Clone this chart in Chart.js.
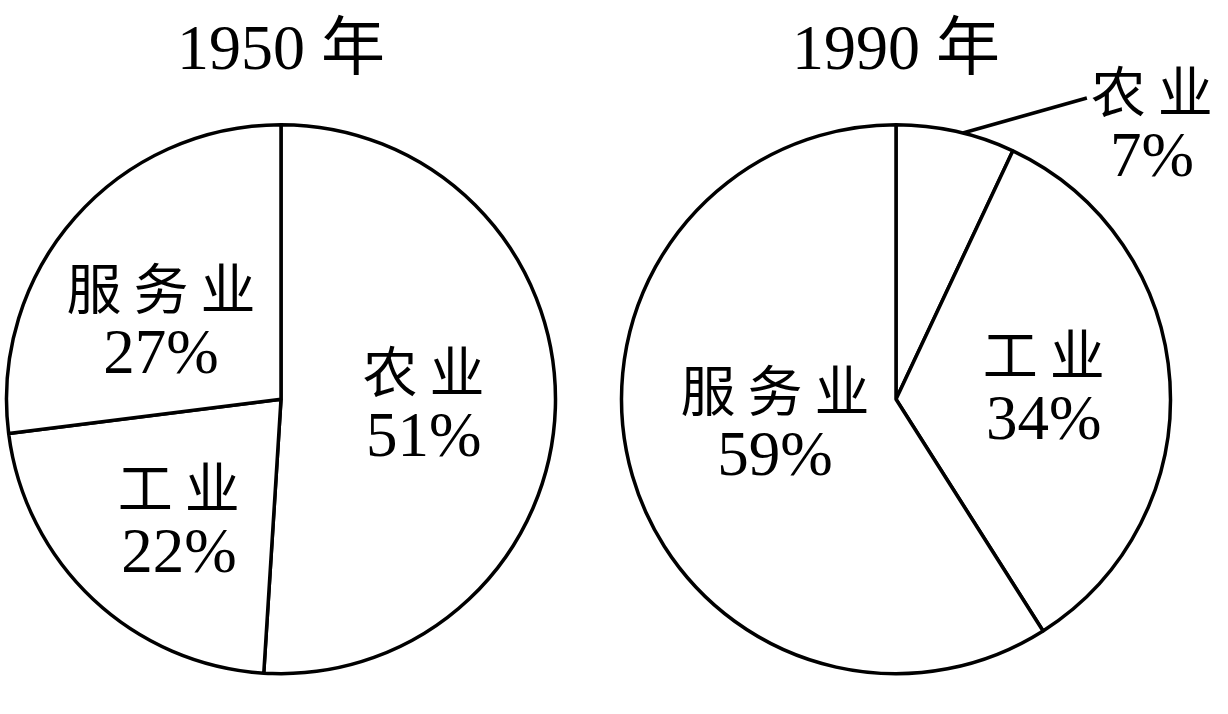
<!DOCTYPE html>
<html lang="zh">
<head>
<meta charset="utf-8">
<title>1950年与1990年产业结构</title>
<script src="https://cdn.jsdelivr.net/npm/chart.js@4.4.1/dist/chart.umd.min.js"></script>
<style>
    html, body { margin: 0; padding: 0; background: #fff; }
    body { width: 1228px; height: 714px; position: relative; overflow: hidden; }
    canvas { position: absolute; top: 0; }
    #chart1950 { left: 0; }
    #chart1990 { left: 615px; }
</style>
</head>
<body>
<canvas id="chart1950" width="562" height="714"></canvas>
<canvas id="chart1990" width="613" height="714"></canvas>
<script>
// Data
const titles = ['1950 年', '1990 年'];
const sectors1950 = ['农业', '工业', '服务业'];
const shares1950 = [51, 22, 27];
const sectors1990 = ['农业', '工业', '服务业'];
const shares1990 = [7, 34, 59];

// Fonts
const numFamily = "'Liberation Serif', 'Times New Roman', 'Noto Sans CJK SC', serif";
const cjkFont = "55px 'Noto Sans CJK SC', sans-serif";
const numFont = "63px 'Liberation Serif', 'Times New Roman', serif";

// Label placement per slice: r = fraction of radius, da = degrees off the slice middle
const place1950 = [
    { r: 0.52, da: 0.6 },
    { r: 0.58, da: -3.3 },
    { r: 0.52, da: -8.7 }
];
const place1990 = [
    { outside: true, da: 1.5, dx: 124, dy: -35, tx: 189, ty: -8 },
    { r: 0.54, da: -0.7 },
    { r: 0.45, da: 4.6 }
];

function drawSpaced(ctx, text, cx, cy, gap) {
    ctx.font = cjkFont;
    ctx.textAlign = 'left';
    const chars = Array.from(text);
    const widths = chars.map(c => ctx.measureText(c).width);
    const total = widths.reduce((a, b) => a + b, 0) + gap * (chars.length - 1);
    let x = cx - total / 2;
    chars.forEach((c, i) => {
        ctx.fillText(c, x, cy);
        x += widths[i] + gap;
    });
}

function makeLabels(places) {
    return {
        id: 'sliceLabels',
        afterDatasetsDraw(chart) {
            const ctx = chart.ctx;
            const meta = chart.getDatasetMeta(0);
            const names = chart.data.labels;
            const values = chart.data.datasets[0].data;
            ctx.save();
            ctx.fillStyle = '#000';
            ctx.strokeStyle = '#000';
            ctx.textBaseline = 'middle';
            meta.data.forEach((arc, i) => {
                const p = arc.getProps(['x', 'y', 'startAngle', 'endAngle', 'outerRadius'], true);
                const place = places[i];
                const a = (p.startAngle + p.endAngle) / 2 + place.da * Math.PI / 180;
                let cx, cy;
                if (place.outside) {
                    const sx = p.x + Math.cos(a) * p.outerRadius;
                    const sy = p.y + Math.sin(a) * p.outerRadius;
                    ctx.beginPath();
                    ctx.moveTo(sx, sy);
                    ctx.lineTo(sx + place.dx, sy + place.dy);
                    ctx.lineWidth = 3.5;
                    ctx.stroke();
                    cx = sx + place.tx;
                    cy = sy + place.ty;
                } else {
                    cx = p.x + Math.cos(a) * p.outerRadius * place.r;
                    cy = p.y + Math.sin(a) * p.outerRadius * place.r;
                }
                drawSpaced(ctx, names[i], cx, cy - 34, 12);
                ctx.font = numFont;
                ctx.textAlign = 'center';
                ctx.fillText(values[i] + '%', cx, cy + 34);
            });
            ctx.restore();
        }
    };
}

function makePie(canvasId, title, labels, values, places, padRight) {
    const ctx = document.getElementById(canvasId).getContext('2d');
    return new Chart(ctx, {
        type: 'pie',
        data: {
            labels: labels,
            datasets: [{
                data: values,
                backgroundColor: '#ffffff',
                borderColor: '#000000',
                borderWidth: 3.5,
                hoverOffset: 0
            }]
        },
        options: {
            responsive: false,
            animation: false,
            events: [],
            radius: 274.5,
            layout: {
                padding: { top: 14, bottom: 6.4, left: 0, right: padRight }
            },
            plugins: {
                legend: { display: false },
                tooltip: { enabled: false },
                title: {
                    display: true,
                    text: title,
                    color: '#000',
                    font: { family: numFamily, size: 64, weight: 'normal', lineHeight: 1.2 },
                    padding: { top: 0, bottom: 0 }
                }
            }
        },
        plugins: [makeLabels(places)]
    });
}

const chart1950 = makePie('chart1950', titles[0], sectors1950, shares1950, place1950, 0);
const chart1990 = makePie('chart1990', titles[1], sectors1990, shares1990, place1990, 51);
</script>
</body>
</html>
